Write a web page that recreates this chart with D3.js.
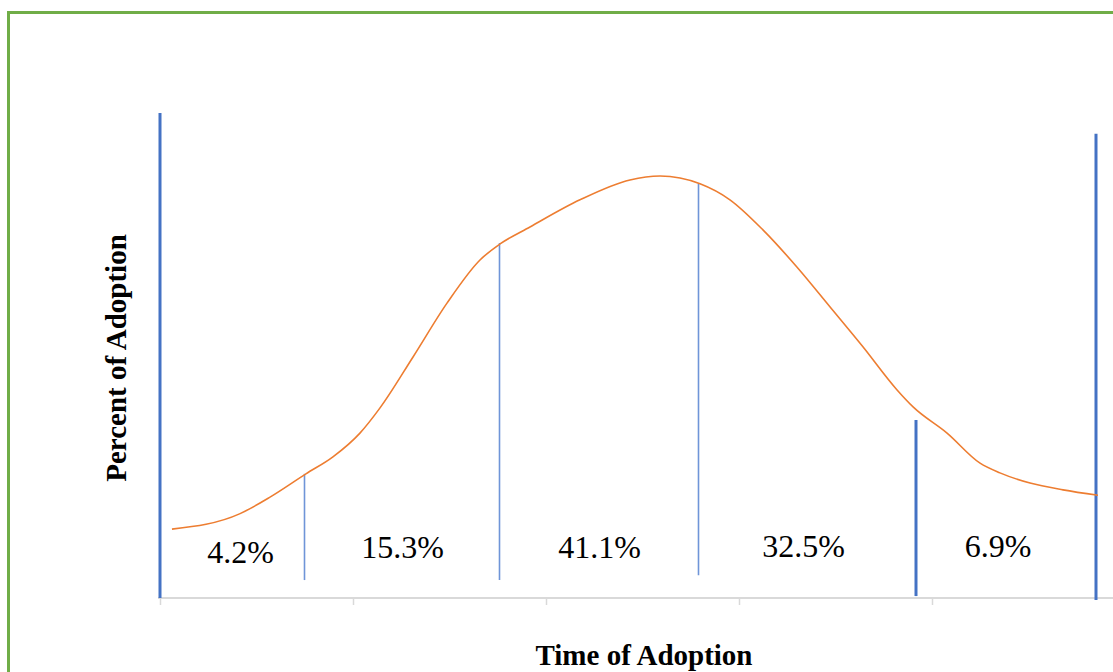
<!DOCTYPE html>
<html>
<head>
<meta charset="utf-8">
<script src="https://cdn.jsdelivr.net/npm/d3@7"></script>
<style>
  html, body { margin: 0; padding: 0; background: #fff; }
  svg { display: block; }
</style>
</head>
<body>
<svg id="chart" width="1113" height="672"></svg>
<script>
// ---- data ----
// adoption curve (time in category units 0..5, percent-of-adoption index 0..100)
const curveTime  = [0.062, 0.415, 0.570, 0.756, 0.896, 1.036, 1.140, 1.311, 1.487, 1.658, 1.762, 1.917, 2.176, 2.435, 2.591, 2.798, 2.953, 3.124, 3.301, 3.472, 3.642, 3.819, 3.902, 4.078, 4.249, 4.352, 4.508, 4.679, 4.860];
const curveValue = [14.2, 17.4, 20.8, 25.6, 29.1, 34.0, 39.2, 49.7, 60.8, 69.7, 73.0, 76.5, 82.1, 86.2, 87.0, 85.4, 82.1, 75.9, 68.2, 60.0, 51.8, 42.9, 39.4, 34.0, 27.8, 25.8, 23.7, 22.3, 21.2];
// category divider lines
const dividerTime   = [0.0, 0.751, 1.762, 2.793, 3.917, 4.850];
const dividerTop    = [100, 25.6, 73.2, 85.4, 36.7, 95.7];
const dividerBottom = [0, 3.7, 3.7, 4.7, 0.4, -0.4];
const dividerHeavy  = [true, false, false, false, true, true];
// segment shares
const segmentLabels = ["4.2%", "15.3%", "41.1%", "32.5%", "6.9%"];
// axis ticks (category boundaries)
const tickValues = [0, 1, 2, 3, 4, 5];
const xTitle = "Time of Adoption";
const yTitle = "Percent of Adoption";

// ---- layout ----
const svg = d3.select("#chart");
const x = d3.scaleLinear().domain([0, 5]).range([160, 1125]);
const y = d3.scaleLinear().domain([0, 100]).range([598, 113]);

const blue = "#4472C4", orange = "#ED7D31", green = "#70AD47", grid = "#D9D9D9";

// outer green frame (cropped on right/bottom)
svg.append("rect")
  .attr("x", 8.5).attr("y", 12.5)
  .attr("width", 1300).attr("height", 900)
  .attr("fill", "none").attr("stroke", green).attr("stroke-width", 3);

// x axis
const xAxis = d3.axisBottom(x).tickValues(tickValues).tickSize(7).tickFormat("");
const gx = svg.append("g").attr("transform", `translate(0,${y(0)})`).call(xAxis);
gx.select(".domain").attr("stroke", grid).attr("stroke-width", 2)
  .attr("d", `M${x(0) - 2},0H1113`);
gx.selectAll(".tick line").attr("stroke", grid).attr("stroke-width", 1.5);

// dividers
const dividers = dividerTime.map((t, i) => ({ t, top: dividerTop[i], bottom: dividerBottom[i], heavy: dividerHeavy[i] }));
svg.append("g").selectAll("line").data(dividers).join("line")
  .attr("x1", d => Math.round(x(d.t)) - (d.heavy ? 0 : 0.5))
  .attr("x2", d => Math.round(x(d.t)) - (d.heavy ? 0 : 0.5))
  .attr("y1", d => y(d.top))
  .attr("y2", d => y(d.bottom))
  .attr("stroke", d => d.heavy ? blue : "#6F95D8")
  .attr("stroke-width", d => d.heavy ? 3 : 1.6);

// curve
const pts = curveTime.map((t, i) => [t, curveValue[i]]);
const line = d3.line().x(d => x(d[0])).y(d => y(d[1])).curve(d3.curveMonotoneX);
svg.append("path").datum(pts)
  .attr("d", line)
  .attr("fill", "none").attr("stroke", orange).attr("stroke-width", 1.6);

// segment labels (centred between dividers)
const labelY = [7.2, 8.2, 8.2, 8.4, 8.4];
svg.append("g").selectAll("text").data(segmentLabels).join("text")
  .attr("x", (d, i) => (x(dividerTime[i]) + x(dividerTime[i + 1])) / 2 + (i === 0 ? 8 : i === 4 ? -8 : i === 3 ? -4 : 0))
  .attr("y", (d, i) => y(labelY[i]))
  .attr("text-anchor", "middle")
  .attr("font-family", "'Liberation Serif', 'Times New Roman', serif")
  .attr("font-size", 32)
  .attr("fill", "#000")
  .text(d => d);

// axis titles
svg.append("text")
  .attr("x", 644).attr("y", 665)
  .attr("text-anchor", "middle")
  .attr("font-family", "'Liberation Serif', 'Times New Roman', serif")
  .attr("font-weight", "bold").attr("font-size", 29)
  .text(xTitle);

svg.append("text")
  .attr("transform", "translate(126,358) rotate(-90)")
  .attr("text-anchor", "middle")
  .attr("font-family", "'Liberation Serif', 'Times New Roman', serif")
  .attr("font-weight", "bold").attr("font-size", 29)
  .text(yTitle);
</script>
</body>
</html>
